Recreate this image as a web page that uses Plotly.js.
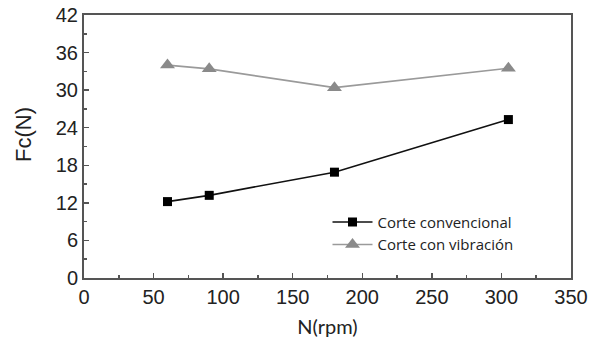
<!DOCTYPE html>
<html>
<head>
<meta charset="utf-8">
<script src="https://cdn.plot.ly/plotly-3.0.1.min.js"></script>
<style>
html,body{margin:0;padding:0;background:#fff;}
#chart{width:591px;height:347px;}
</style>
</head>
<body>
<div id="chart"></div>
<script>
const rpm = [60, 90, 180, 305];
const convencional = [12.2, 13.2, 16.9, 25.3];
const vibracion = [34.0, 33.4, 30.4, 33.5];
const seriesNames = ["Corte convencional", "Corte con vibración"];
const xTicks = [0, 50, 100, 150, 200, 250, 300, 350];
const yTicks = [0, 6, 12, 18, 24, 30, 36, 42];

const traces = [
  {
    x: rpm, y: convencional, name: seriesNames[0],
    type: 'scatter', mode: 'lines+markers',
    line: {color: '#111', width: 1.6},
    marker: {symbol: 'square', size: 9, color: '#000'}
  },
  {
    x: rpm, y: vibracion, name: seriesNames[1],
    type: 'scatter', mode: 'lines+markers',
    line: {color: '#9a9a9a', width: 1.6},
    marker: {symbol: 'triangle-up', size: 13, color: '#8a8a8a'}
  }
];

const axisFont = {family: 'Liberation Sans, Arial, sans-serif', size: 20, color: '#222'};

const layout = {
  width: 591, height: 347,
  margin: {l: 84, r: 20, t: 15, b: 69},
  paper_bgcolor: '#fff', plot_bgcolor: '#fff',
  showlegend: true,
  legend: {
    x: 0.5, y: 0.275, xanchor: 'left', yanchor: 'top',
    itemwidth: 40,
    bgcolor: 'rgba(0,0,0,0)',
    font: {family: 'Open Sans, sans-serif', size: 15, color: '#222'}
  },
  annotations: [{
    text: 'Fc(N)', xref: 'paper', yref: 'paper',
    x: -0.123, y: 0.544, xanchor: 'center', yanchor: 'middle',
    textangle: -90, showarrow: false,
    font: {family: 'Liberation Sans, Arial, sans-serif', size: 22, color: '#222'}
  }],
  xaxis: {
    range: [0, 350], tickvals: xTicks, ticktext: xTicks.map(String),
    showgrid: false, zeroline: false,
    showline: true, linecolor: '#555', linewidth: 2, mirror: true,
    ticks: 'inside', ticklen: 5, tickwidth: 1.5, tickcolor: '#555',
    minor: {dtick: 25, ticks: 'inside', ticklen: 3, tickcolor: '#555', showgrid: false},
    tickfont: axisFont,
    title: {text: 'N(rpm)', font: {family: 'Lato, Open Sans, sans-serif', size: 20, color: '#222'}, standoff: 13}
  },
  yaxis: {
    range: [0, 42], tickvals: yTicks, ticktext: yTicks.map(String),
    showgrid: false, zeroline: false,
    showline: true, linecolor: '#555', linewidth: 2, mirror: true,
    ticks: 'inside', ticklen: 5, tickwidth: 1.5, tickcolor: '#555',
    minor: {dtick: 3, ticks: 'inside', ticklen: 3, tickcolor: '#555', showgrid: false},
    tickfont: axisFont
  }
};

Plotly.newPlot('chart', traces, layout, {displayModeBar: false, staticPlot: true});
</script>
</body>
</html>
